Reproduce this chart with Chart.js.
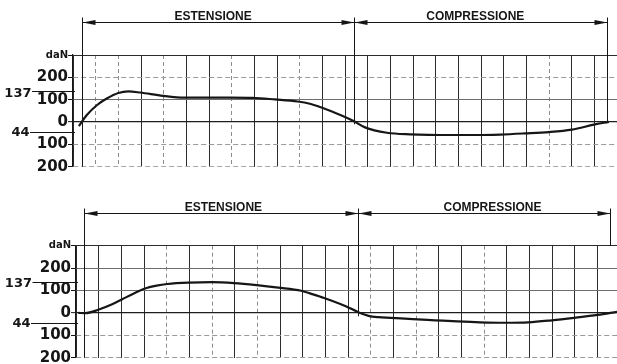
<!DOCTYPE html>
<html>
<head>
<meta charset="utf-8">
<script src="https://cdn.jsdelivr.net/npm/chart.js@4.4.1/dist/chart.umd.min.js"></script>
<style>
  html, body { margin: 0; padding: 0; background: #fff; overflow: hidden; width: 617px; height: 364px; }
  .panel { position: absolute; left: 0; width: 617px; }
  #upper { top: 0; height: 182px; }
  #lower { top: 182px; height: 200px; }
</style>
</head>
<body>
<div class="panel" id="upper"><canvas id="upperCanvas"></canvas></div>
<div class="panel" id="lower"><canvas id="lowerCanvas"></canvas></div>
<script>
// Damper force over one stroke; travel is counted in grid divisions.
const upperTravel = [0.26, 0.6, 1.05, 1.49, 2.0, 2.44, 2.96, 3.97, 4.94, 5.96, 6.93, 7.93, 8.91, 9.91, 10.45, 10.9, 11.9, 12.4, 12.88, 13.85, 14.87, 16.76, 17.82, 18.84, 19.94, 21.0, 22.01, 22.98, 23.64];
const upperForce  = [-18, 30, 75, 105, 130, 137, 132, 117, 109, 109, 109, 108, 101, 92, 82, 67, 27, 3, -24, -48, -55, -58, -58, -56, -51, -45, -34, -12, 1];

const lowerTravel = [0.1, 0.4, 1.01, 1.57, 2.04, 2.53, 3.01, 3.56, 4.03, 5.0, 5.99, 6.98, 7.97, 8.92, 9.93, 10.32, 10.91, 11.9, 12.45, 12.9, 13.33, 13.88, 14.85, 15.84, 16.82, 17.82, 18.85, 19.95, 20.98, 21.97, 23.01, 23.86];
const lowerForce  = [0, -1, 15, 37, 61, 86, 108, 122, 129, 135, 137, 133, 124, 113, 99, 87, 68, 30, 3, -13, -19, -22, -28, -33, -38, -42, -44, -42, -33, -22, -9, 5];

// Force axis (daN) and its printed labels
const forceTicks  = [300, 200, 100, 0, -100, -200];
const forceLabels = ['daN', '200', '100', '0', '100', '200'];

// Stroke phases and the marked peak forces
const phaseNames   = ['ESTENSIONE', 'COMPRESSIONE'];
const markedForces = [137, -44];
const markedText   = ['137', '44'];

const NUM_FONT = '"DejaVu Sans", sans-serif';
const TXT_FONT = '"Liberation Sans", Arial, sans-serif';
const INK = '#161616';

function strokeNotes(cfg) {
  return {
    id: 'strokeNotes',
    afterDraw(chart) {
      const { ctx, chartArea } = chart;
      const x = chart.scales.x, y = chart.scales.y;
      ctx.save();
      ctx.strokeStyle = INK;
      ctx.fillStyle = INK;
      ctx.lineWidth = 1;

      const bx = cfg.bounds.map(v => Math.round(x.getPixelForValue(v)) + 0.5);
      const ay = Math.round(cfg.arrowY) + 0.5;

      // phase boundary lines
      bx.forEach((px, i) => {
        const end = cfg.boundEnds[i] === null ? chartArea.bottom : y.getPixelForValue(cfg.boundEnds[i]);
        ctx.beginPath();
        ctx.moveTo(px, ay - 5);
        ctx.lineTo(px, end);
        ctx.stroke();
      });

      // dimension line with arrowheads
      ctx.beginPath();
      ctx.moveTo(bx[0], ay);
      ctx.lineTo(bx[2], ay);
      ctx.stroke();
      const head = (tip, dir) => {
        ctx.beginPath();
        ctx.moveTo(tip, ay);
        ctx.lineTo(tip - dir * 13, ay - 2.6);
        ctx.lineTo(tip - dir * 13, ay + 2.6);
        ctx.closePath();
        ctx.fill();
      };
      head(bx[0], -1);
      head(bx[1], 1);
      head(bx[1], -1);
      head(bx[2], 1);

      // phase names
      ctx.font = 'bold 12px ' + TXT_FONT;
      ctx.textAlign = 'center';
      ctx.textBaseline = 'alphabetic';
      phaseNames.forEach((name, i) => {
        ctx.fillText(name, x.getPixelForValue(cfg.labelAt[i]), ay - 2.5);
      });

      // marked peak forces with leader lines
      ctx.font = 'bold 13px ' + NUM_FONT;
      ctx.textAlign = 'right';
      ctx.textBaseline = 'middle';
      markedForces.forEach((v, i) => {
        const py = Math.round(y.getPixelForValue(v)) + 0.5;
        ctx.beginPath();
        ctx.moveTo(cfg.leadFrom[i], py);
        ctx.lineTo(chartArea.left + 2, py);
        ctx.stroke();
        ctx.fillText(markedText[i], cfg.leadFrom[i] - 0.5, py + cfg.leadDy[i]);
      });
      ctx.restore();
    }
  };
}

function buildChart(canvasId, travel, force, look) {
  const points = travel.map((t, i) => ({ x: t, y: force[i] }));
  const lightX = new Set(look.lightX);
  return new Chart(document.getElementById(canvasId), {
    type: 'line',
    data: {
      datasets: [{
        data: points,
        borderColor: INK,
        borderWidth: 2.2,
        pointRadius: 0,
        fill: false,
        cubicInterpolationMode: 'monotone',
        clip: false
      }]
    },
    options: {
      responsive: true,
      maintainAspectRatio: false,
      animation: false,
      events: [],
      layout: { padding: { top: look.padTop, bottom: look.padBottom, left: 0, right: 0 } },
      plugins: { legend: { display: false }, tooltip: { enabled: false }, title: { display: false } },
      scales: {
        x: {
          type: 'linear',
          min: 0,
          max: look.xMax,
          ticks: { display: false, stepSize: 1, maxTicksLimit: 40, includeBounds: false },
          grid: {
            drawTicks: false,
            lineWidth: 1,
            color: c => {
              const v = c.tick ? c.tick.value : 0;
              if (v > 23.5) return 'rgba(0,0,0,0)';
              return lightX.has(v) ? '#8c8c8c' : '#2c2c2c';
            }
          },
          border: {
            display: false,
            dash: c => (c.tick && lightX.has(c.tick.value)) ? [4, 3] : []
          }
        },
        y: {
          min: -200,
          max: 300,
          afterFit: s => { s.width = look.axisWidth; },
          ticks: {
            stepSize: 100,
            autoSkip: false,
            padding: 0,
            color: INK,
            callback: v => {
              const k = forceTicks.indexOf(v);
              return k >= 0 ? forceLabels[k] : '';
            },
            font: c => (c.tick && c.tick.value === 300)
              ? { family: NUM_FONT, size: 10, weight: 'bold' }
              : { family: NUM_FONT, size: 15, weight: 'bold' }
          },
          grid: {
            tickLength: 5,
            tickColor: INK,
            tickWidth: 1,
            lineWidth: c => (c.tick && c.tick.value === 0) ? 1.3 : 1,
            color: c => look.rowColor[c.tick ? c.tick.value : 0] || '#2c2c2c'
          },
          border: {
            display: true,
            color: INK,
            width: 1.2,
            dash: c => (c.tick && look.dashedRows.includes(c.tick.value)) ? [5, 3] : []
          }
        }
      }
    },
    plugins: [strokeNotes(look.notes)]
  });
}

buildChart('upperCanvas', upperTravel, upperForce, {
  padTop: 55, padBottom: 15.3, axisWidth: 73, xMax: 24,
  lightX: [1, 2, 4, 7, 10, 21],
  rowColor: { 300: '#2c2c2c', 200: '#9a9a9a', 100: '#6e6e6e', 0: '#1e1e1e', '-100': '#9a9a9a', '-200': '#a8a8a8' },
  dashedRows: [200, -100, -200],
  notes: {
    bounds: [0.4, 12.4, 23.57],
    boundEnds: [null, -10, 0],
    arrowY: 21.7,
    labelAt: [6.18, 17.75],
    leadFrom: [32, 30],
    leadDy: [2, 0.5]
  }
});

buildChart('lowerCanvas', lowerTravel, lowerForce, {
  padTop: 63.7, padBottom: 24.3, axisWidth: 76, xMax: 23.86,
  lightX: [4, 6, 8, 13, 15, 18],
  rowColor: { 300: '#2c2c2c', 200: '#6e6e6e', 100: '#6e6e6e', 0: '#1e1e1e', '-100': '#9a9a9a', '-200': '#9a9a9a' },
  dashedRows: [-100, -200],
  notes: {
    bounds: [0.37, 12.45, 23.55],
    boundEnds: [null, -15, 300],
    arrowY: 30.7,
    labelAt: [6.5, 18.37],
    leadFrom: [32.5, 31],
    leadDy: [1, 0.5]
  }
});
</script>
</body>
</html>
